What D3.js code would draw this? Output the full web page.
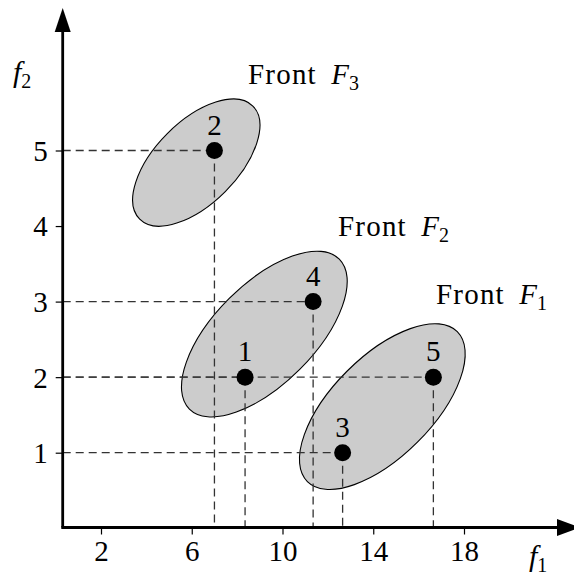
<!DOCTYPE html>
<html>
<head>
<meta charset="utf-8">
<script src="https://cdn.jsdelivr.net/npm/d3@7"></script>
<style>
  html, body { margin: 0; padding: 0; background: #fff; }
  svg { display: block; }
  text { font-family: "Liberation Serif", "DejaVu Serif", serif; fill: #000; }
</style>
</head>
<body>
<svg id="chart" width="574" height="580"></svg>
<script>
// Solutions in objective space (f1, f2) and their ids
const ids = ["1", "2", "3", "4", "5"];
const f1Values = [8.35, 7.0, 12.65, 11.35, 16.65];
const f2Values = [2, 5, 1, 3, 2];

// Non-dominated fronts: label subscript and ellipse centre in (f1, f2)
const frontNames = ["1", "2", "3"];
const frontCenterF1 = [14.4, 9.2, 6.2];
const frontCenterF2 = [1.61, 2.57, 4.84];

// Axis tick values
const xTicks = [2, 6, 10, 14, 18];
const yTicks = [1, 2, 3, 4, 5];

const svg = d3.select("#chart");

const x = d3.scaleLinear().domain([2, 18]).range([101, 464]);
const y = d3.scaleLinear().domain([1, 5]).range([452.7, 150.5]);

const originX = 62.7, originY = 527.5;
const labelSize = 29;

// ellipse shape per front (pixels, tilted 45°)
const ellipseShape = [
  { rx: 106, ry: 50 },
  { rx: 106, ry: 50 },
  { rx: 80, ry: 41 }
];

const fronts = frontNames.map((n, i) => ({
  name: n, cx: frontCenterF1[i], cy: frontCenterF2[i], shape: ellipseShape[i]
}));

svg.append("g").selectAll("ellipse")
  .data(fronts)
  .join("ellipse")
  .attr("transform", d => `translate(${x(d.cx)},${y(d.cy)}) rotate(-45)`)
  .attr("rx", d => d.shape.rx)
  .attr("ry", d => d.shape.ry)
  .attr("fill", "#cccccc")
  .attr("stroke", "#000")
  .attr("stroke-width", 1.1);

const points = ids.map((id, i) => ({ id, f1: f1Values[i], f2: f2Values[i] }));

// projection guides to both axes
const guides = svg.append("g")
  .attr("stroke", "#333")
  .attr("stroke-width", 1.3)
  .attr("stroke-dasharray", "8,5")
  .attr("fill", "none");

guides.selectAll("line.h")
  .data(points)
  .join("line")
  .attr("class", "h")
  .attr("x1", originX)
  .attr("x2", d => x(d.f1))
  .attr("y1", d => y(d.f2))
  .attr("y2", d => y(d.f2));

guides.selectAll("line.v")
  .data(points)
  .join("line")
  .attr("class", "v")
  .attr("x1", d => x(d.f1))
  .attr("x2", d => x(d.f1))
  .attr("y1", d => y(d.f2))
  .attr("y2", originY);

// axes with ticks
const xAxis = svg.append("g")
  .attr("transform", `translate(0,${originY})`)
  .call(d3.axisBottom(x).tickValues(xTicks).tickFormat(d3.format("d"))
    .tickSize(7).tickSizeOuter(0).tickPadding(6));
const yAxis = svg.append("g")
  .attr("transform", `translate(${originX},0)`)
  .call(d3.axisLeft(y).tickValues(yTicks).tickFormat(d3.format("d"))
    .tickSize(7).tickSizeOuter(0).tickPadding(8));

[xAxis, yAxis].forEach(g => {
  g.select(".domain").remove();
  g.selectAll(".tick line").attr("stroke", "#000").attr("stroke-width", 1.2);
  g.selectAll(".tick text")
    .attr("font-family", "'Liberation Serif', serif")
    .attr("font-size", labelSize)
    .attr("fill", "#000");
});
yAxis.selectAll(".tick text").attr("dy", "0.34em");
xAxis.selectAll(".tick text").attr("dy", "0.72em");

// axis lines with arrow heads
svg.append("line")
  .attr("x1", originX).attr("y1", originY)
  .attr("x2", originX).attr("y2", 30)
  .attr("stroke", "#000").attr("stroke-width", 2.8);
svg.append("line")
  .attr("x1", originX - 1.4).attr("y1", originY)
  .attr("x2", 560).attr("y2", originY)
  .attr("stroke", "#000").attr("stroke-width", 2.8);
svg.append("path")
  .attr("d", `M${originX},8 L${originX - 8},32 L${originX + 8},32 Z`)
  .attr("fill", "#000");
svg.append("path")
  .attr("d", `M580,${originY} L557,${originY - 8.5} L557,${originY + 8.5} Z`)
  .attr("fill", "#000");

// points and their ids
svg.append("g").selectAll("circle")
  .data(points)
  .join("circle")
  .attr("cx", d => x(d.f1))
  .attr("cy", d => y(d.f2))
  .attr("r", 8.5)
  .attr("fill", "#000");

svg.append("g").selectAll("text")
  .data(points)
  .join("text")
  .attr("x", d => x(d.f1))
  .attr("y", d => y(d.f2) - 16)
  .attr("text-anchor", "middle")
  .attr("font-size", labelSize)
  .text(d => d.id);

// front labels
const frontLabelPos = [
  { x: 436, y: 304 },
  { x: 338, y: 236 },
  { x: 248, y: 84 }
];
fronts.forEach((f, i) => {
  const t = svg.append("text")
    .attr("x", frontLabelPos[i].x)
    .attr("y", frontLabelPos[i].y)
    .attr("font-size", labelSize);
  t.append("tspan").attr("letter-spacing", 1.2).text("Front ");
  t.append("tspan").attr("dx", 6).attr("font-style", "italic").text("F");
  t.append("tspan").attr("font-size", 20).attr("dy", 6).text(f.name);
});

// axis titles
const f2Label = svg.append("text").attr("x", 13).attr("y", 82).attr("font-size", 30);
f2Label.append("tspan").attr("font-style", "italic").text("f");
f2Label.append("tspan").attr("font-size", 20).attr("dy", 6).text("2");

const f1Label = svg.append("text").attr("x", 529).attr("y", 566).attr("font-size", 30);
f1Label.append("tspan").attr("font-style", "italic").text("f");
f1Label.append("tspan").attr("font-size", 20).attr("dy", 6).text("1");
</script>
</body>
</html>
